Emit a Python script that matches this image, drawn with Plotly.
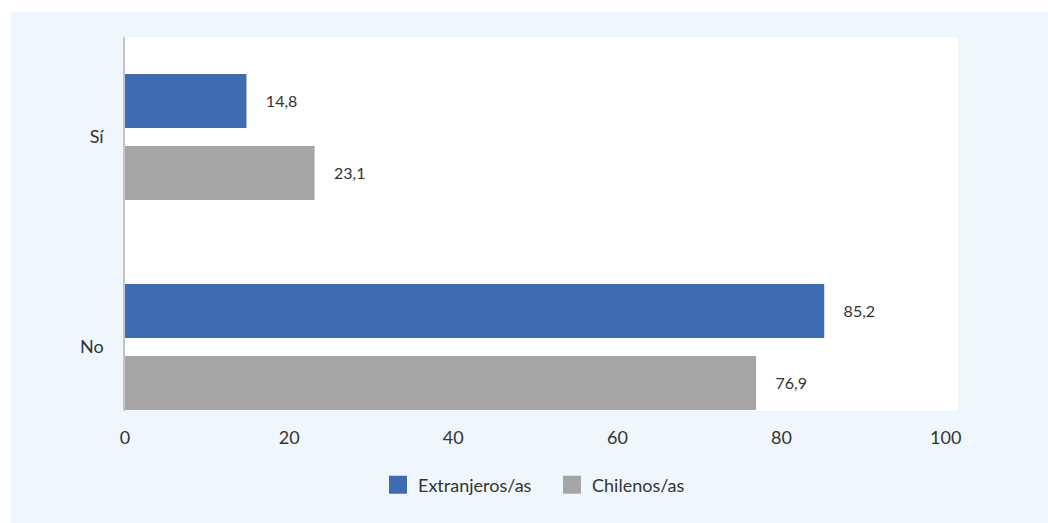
import plotly.graph_objects as go

categories = ["Sí", "No"]
extranjeros = [14.8, 85.2]
chilenos = [23.1, 76.9]
series_names = ["Extranjeros/as", "Chilenos/as"]
x_ticks = [0, 20, 40, 60, 80, 100]

BLUE = "#3F6BB2"
GRAY = "#A5A5A5"
BG = "#EFF6FD"
TXT = "#333333"
FONT = "Lato, 'Open Sans', sans-serif"

W, H = 1048, 523
ML, MR, MT, MB = 125, 90, 37, 112
pw, ph = W - ML - MR, H - MT - MB

fig = go.Figure()
for name, vals, col in [(series_names[0], extranjeros, BLUE), (series_names[1], chilenos, GRAY)]:
    fig.add_trace(go.Bar(
        y=categories, x=vals, name=name, orientation="h",
        marker=dict(color=col, line=dict(width=0)),
        texttemplate="\u00a0\u00a0\u00a0\u00a0%{x:.1f}", textposition="outside",
        textfont=dict(size=16, color=TXT, family=FONT),
        cliponaxis=False, showlegend=False,
    ))
    fig.add_trace(go.Scatter(
        x=[None], y=[None], mode="markers", name=name,
        marker=dict(symbol="square", size=16, color=col, line=dict(color=col, width=2)),
        showlegend=True,
    ))

def px_x(p):
    return (p - ML) / pw

def px_y(p):
    return (H - MB - p) / ph

shapes = [
    dict(type="rect", xref="paper", yref="paper", x0=px_x(0), x1=px_x(W), y0=px_y(12), y1=px_y(0),
         fillcolor="white", line=dict(width=0), layer="below"),
    dict(type="rect", xref="paper", yref="paper", x0=px_x(0), x1=px_x(11), y0=px_y(H), y1=px_y(0),
         fillcolor="white", line=dict(width=0), layer="below"),
]

fig.update_layout(
    width=W, height=H,
    margin=dict(l=ML, r=MR, t=MT, b=MB, pad=0),
    paper_bgcolor=BG, plot_bgcolor="white",
    separators=",.",
    barmode="group", bargap=0.314, bargroupgap=0.25,
    font=dict(family=FONT, color=TXT, size=18),
    shapes=shapes,
    xaxis=dict(range=[0, 101.5], tickvals=x_ticks, showgrid=False, zeroline=False,
               showline=False, ticks="", tickfont=dict(size=18, color=TXT),
               ticklabelstandoff=14),
    yaxis=dict(range=[1.305, -0.476], showgrid=False, zeroline=False, showline=True,
               linecolor="#C4C4C4", linewidth=1.5, ticks="", tickfont=dict(size=18, color=TXT),
               ticklabelstandoff=16),
    legend=dict(orientation="h", x=px_x(378), xanchor="left", y=px_y(485), yanchor="middle",
                font=dict(size=18, color=TXT), bgcolor="rgba(0,0,0,0)", itemsizing="trace",
                tracegroupgap=0, entrywidth=129, entrywidthmode="pixels"),
)

fig.write_html("out.html")
